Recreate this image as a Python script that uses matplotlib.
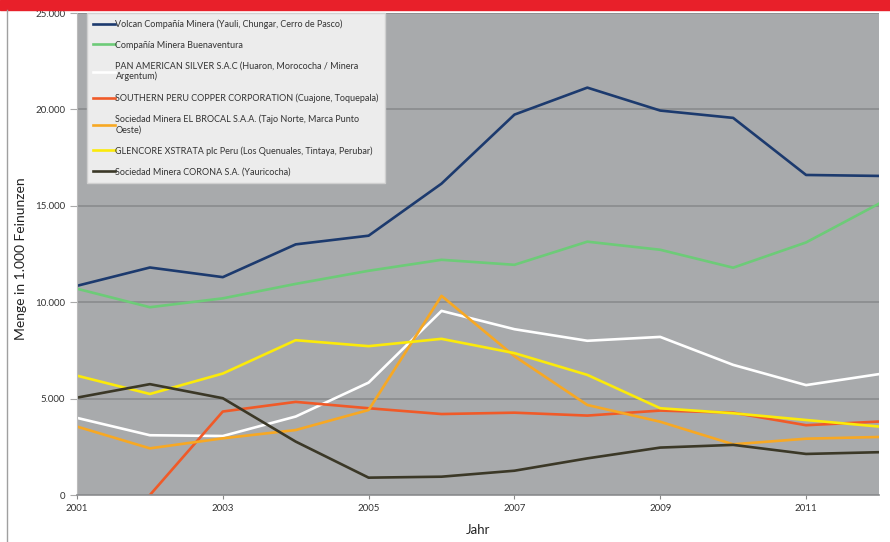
import numpy as np
import matplotlib.pyplot as plt
from matplotlib.patches import Rectangle
from matplotlib.lines import Line2D
from matplotlib.ticker import FuncFormatter

plt.rcParams['font.family'] = ['Lato', 'DejaVu Sans']

# ---------------------------------------------------------------
# Data (1.000 Feinunzen Silber)
# ---------------------------------------------------------------
years = np.arange(2001, 2013)

volcan = [10850, 11800, 11300, 13000, 13450, 16150, 19730, 21130, 19940, 19560, 16600, 16550]
buenaventura = [10700, 9740, 10200, 10950, 11630, 12200, 11940, 13140, 12720, 11790, 13100, 15110]
pan_american = [4000, 3100, 3060, 4070, 5830, 9550, 8600, 8000, 8200, 6750, 5700, 6270]
southern = [np.nan, 0, 4330, 4830, 4500, 4200, 4270, 4120, 4380, 4270, 3620, 3810]
brocal = [3550, 2420, 2940, 3370, 4410, 10330, 7200, 4670, 3800, 2630, 2920, 3010]
glencore = [6190, 5240, 6300, 8030, 7720, 8100, 7360, 6230, 4500, 4240, 3890, 3550]
corona = [5050, 5750, 5020, 2770, 900, 950, 1260, 1900, 2460, 2600, 2130, 2220]

series = [
    ("Volcan Compañía Minera (Yauli, Chungar, Cerro de Pasco)", volcan, "#1c3a6e"),
    ("Compañía Minera Buenaventura", buenaventura, "#6dcb78"),
    ("PAN AMERICAN SILVER S.A.C (Huaron, Morococha / Minera\nArgentum)", pan_american, "#ffffff"),
    ("SOUTHERN PERU COPPER CORPORATION (Cuajone, Toquepala)", southern, "#f05a28"),
    ("Sociedad Minera EL BROCAL S.A.A. (Tajo Norte, Marca Punto\nOeste)", brocal, "#f7a823"),
    ("GLENCORE XSTRATA plc Peru (Los Quenuales, Tintaya, Perubar)", glencore, "#fbea0a"),
    ("Sociedad Minera CORONA S.A. (Yauricocha)", corona, "#3b3827"),
]

fig = plt.figure(figsize=(8.9, 5.42), dpi=100)
ax = fig.add_axes([0.0865, 0.0867, 0.9011, 0.8893])

# red band on top and thin frame line on the left
fig.patches.append(Rectangle((0, 1 - 10 / 542), 1, 10 / 542, transform=fig.transFigure,
                             color="#e8202a", zorder=0))
fig.lines.append(Line2D([7 / 890, 7 / 890], [0, 1 - 10 / 542], transform=fig.transFigure,
                        color="#a0a0a0", lw=1))

ax.set_facecolor("#a8aaac")
for name, vals, col in series:
    ax.plot(years, vals, color=col, lw=1.9, label=name)

ax.set_xlim(2001, 2012)
ax.set_ylim(0, 25000)
ax.set_xticks(np.arange(2001, 2012, 2))
ax.set_yticks(np.arange(0, 25001, 5000))
ax.yaxis.set_major_formatter(FuncFormatter(lambda v, p: f"{int(v):,}".replace(",", ".")))
ax.grid(axis="y", color="#8c8e90", lw=1.3)
ax.set_axisbelow(True)

ax.tick_params(axis="both", labelsize=7, length=3, width=0.8)
ax.tick_params(axis="x", colors="#888888", labelcolor="#333333")
ax.tick_params(axis="y", colors="#aaaaaa", labelcolor="#333333", length=5)

for side in ["top", "right"]:
    ax.spines[side].set_visible(False)
ax.spines["left"].set_color("#bbbbbb")
ax.spines["bottom"].set_color("#8c8e90")
ax.spines["bottom"].set_linewidth(1.2)

ax.set_xlabel("Jahr", fontsize=9.5, color="#222222", labelpad=8)
ax.set_ylabel("Menge in 1.000 Feinunzen", fontsize=10, color="#222222")
ax.yaxis.set_label_coords(-0.062, 0.49)

leg = ax.legend(loc="upper left", bbox_to_anchor=(0.012, 1.0), fontsize=6.5,
                frameon=True, fancybox=False, handlelength=2.4, handletextpad=0.1,
                labelspacing=1.3, borderpad=0.7, borderaxespad=0)
leg.get_frame().set_facecolor("#ececec")
leg.get_frame().set_edgecolor("#d0d0d0")
leg.get_frame().set_alpha(1)
for t in leg.get_texts():
    t.set_color("#333333")

fig.savefig("out.png", dpi=100)
